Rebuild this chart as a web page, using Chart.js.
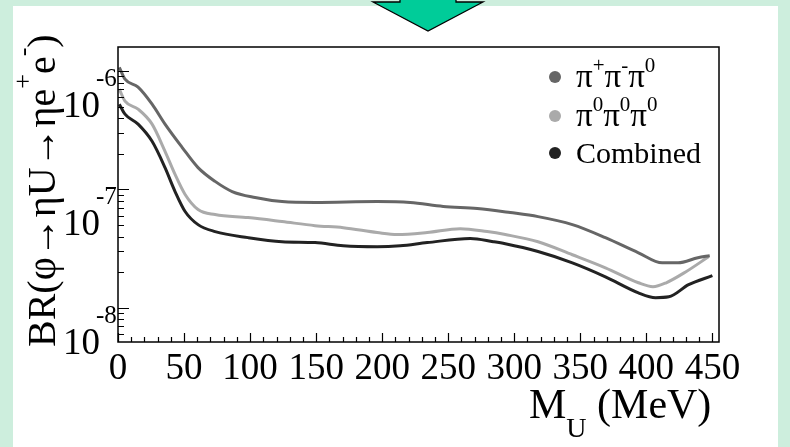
<!DOCTYPE html>
<html><head><meta charset="utf-8">
<script src="https://cdn.jsdelivr.net/npm/chart.js@4.4.0/dist/chart.umd.min.js"></script>
<style>html,body{margin:0;padding:0;background:#fff;}canvas{display:block;}</style>
</head><body>
<canvas id="c" width="790" height="447"></canvas>
<script>
// ---- data (M_U in MeV, BR upper limit) ----
const pipmX = [1,5.3,15.2,25.8,35.6,48.5,60.6,73.5,86.4,103.8,124.2,149.2,196.2,221.2,246.2,272,297,318,344,369,394,412,424,439,448];
const pipmY = [1.074e-6,8.55e-7,7.31e-7,5.25e-7,3.56e-7,2.27e-7,1.53e-7,1.17e-7,9.61e-8,8.55e-8,7.90e-8,7.76e-8,7.90e-8,7.76e-8,7.18e-8,6.90e-8,6.38e-8,5.90e-8,5.05e-8,3.92e-8,2.92e-8,2.40e-8,2.40e-8,2.65e-8,2.76e-8];

const pi0X = [1,5.3,15.2,25.8,35.6,43.2,50.8,60.6,73.5,98.5,124.2,149.2,170.5,196.2,211.4,234.1,259.1,279.5,293.2,318,344,369,394,405,415,430,447];
const pi0Y = [7.03e-7,5.57e-7,4.77e-7,3.56e-7,2.10e-7,1.34e-7,9.08e-8,6.78e-8,6.14e-8,5.79e-8,5.36e-8,4.95e-8,4.76e-8,4.33e-8,4.16e-8,4.33e-8,4.67e-8,4.41e-8,4.16e-8,3.62e-8,2.81e-8,2.18e-8,1.63e-8,1.51e-8,1.63e-8,2.02e-8,2.70e-8];

const combX = [1,5.3,15.2,25.8,35.6,43.2,50.8,60.6,73.5,98.5,124.2,149.2,170.5,196.2,213.6,234.1,266.7,284.1,293.2,318,344,369,394,407,417,432,450];
const combY = [5.25e-7,4.33e-7,3.56e-7,2.55e-7,1.53e-7,9.61e-8,6.52e-8,5.05e-8,4.41e-8,3.92e-8,3.62e-8,3.56e-8,3.35e-8,3.29e-8,3.35e-8,3.56e-8,3.85e-8,3.62e-8,3.48e-8,2.99e-8,2.40e-8,1.83e-8,1.34e-8,1.22e-8,1.24e-8,1.57e-8,1.87e-8];

const seriesLabels = [
  [['π',''],['+','sup'],['π',''],['-','sup'],['π',''],['0','sup']],
  [['π',''],['0','sup'],['π',''],['0','sup'],['π',''],['0','sup']],
  [['Combined','']]
];
const seriesColors = ['#666666', '#aaaaaa', '#222222'];
const xTickLabels = [0,50,100,150,200,250,300,350,400,450];
const yDecades = [-8,-7,-6];

const xMin = 0, xMax = 455;
const yMin = Math.pow(10,-8.288), yMax = Math.pow(10,-5.797);

function pts(xs, ys){ return xs.map((v,i)=>({x:v, y:ys[i]})); }

const SERIF = '"Liberation Serif","Times New Roman",serif';

function drawRich(ctx, parts, x, y, big, small, supDy, subDy){
  for (const [t,k] of parts){
    const sz = (k==='sup'||k==='sub')?small:big;
    ctx.font = sz+'px '+SERIF;
    const dy = k==='sup'?-supDy:(k==='sub'?subDy:0);
    ctx.fillText(t, x, y+dy);
    x += ctx.measureText(t).width;
  }
  return x;
}

const deco = {
  id:'deco',
  beforeDraw(chart){
    const ctx = chart.ctx;
    ctx.save();
    ctx.fillStyle = '#cdeedd';
    ctx.fillRect(0,0,790,447);
    ctx.fillStyle = '#ffffff';
    ctx.fillRect(13,6,765,441);
    // arrow head at top
    ctx.beginPath();
    ctx.moveTo(400,-5); ctx.lineTo(400,2); ctx.lineTo(373,2); ctx.lineTo(428,31);
    ctx.lineTo(483,2); ctx.lineTo(456,2); ctx.lineTo(456,-5); ctx.closePath();
    ctx.fillStyle = '#00cc99'; ctx.fill();
    ctx.strokeStyle = '#000'; ctx.lineWidth = 1.3; ctx.stroke();
    ctx.restore();
  },
  afterDraw(chart){
    const ctx = chart.ctx, a = chart.chartArea, xs = chart.scales.x, ys = chart.scales.y;
    ctx.save();
    ctx.strokeStyle = '#000';
    ctx.lineWidth = 1.5;
    ctx.strokeRect(a.left, a.top, a.right-a.left, a.bottom-a.top);
    ctx.lineWidth = 1.2;
    ctx.beginPath();
    for (let v=0; v<=450; v+=10){
      const px = Math.round(xs.getPixelForValue(v))+0.5;
      const len = (v%50===0)?9:5;
      ctx.moveTo(px, a.bottom); ctx.lineTo(px, a.bottom-len);
    }
    for (let d=-9; d<=-6; d++){
      for (let m=1; m<=9; m++){
        const val = m*Math.pow(10,d);
        if (val<yMin || val>yMax) continue;
        const py = Math.round(ys.getPixelForValue(val))+0.5;
        const len = (m===1)?11:6;
        ctx.moveTo(a.left, py); ctx.lineTo(a.left+len, py);
      }
    }
    ctx.stroke();

    ctx.fillStyle = '#000';
    // x tick labels
    ctx.font = '37px '+SERIF;
    ctx.textAlign = 'center'; ctx.textBaseline = 'alphabetic';
    for (const v of xTickLabels){
      ctx.fillText(String(v), xs.getPixelForValue(v), 379);
    }
    // y tick labels 10^d
    for (const d of yDecades){
      const py = ys.getPixelForValue(Math.pow(10,d));
      ctx.textAlign = 'right';
      ctx.font = '37px '+SERIF;
      ctx.fillText('10', 100, py+46);
      ctx.textAlign = 'left';
      ctx.font = '25px '+SERIF;
      ctx.fillText(String(d), 96, py+15);
    }
    ctx.textAlign = 'left';
    // x title
    drawRich(ctx, [['M',''],['U','sub'],[' (MeV)','']], 529, 418, 42, 28, 0, 19);
    // y title
    ctx.save();
    ctx.translate(55, 347);
    ctx.rotate(-Math.PI/2);
    drawRich(ctx, [['BR(φ→ηU→ηe',''],['+','sup'],['e',''],['-','sup'],[')','']], 0, 0, 40, 26, 24, 0);
    ctx.restore();
    // legend
    const lx = 555, ly = [77,116,153];
    for (let i=0;i<3;i++){
      ctx.fillStyle = seriesColors[i];
      ctx.beginPath(); ctx.arc(lx, ly[i], 6, 0, Math.PI*2); ctx.fill();
      ctx.fillStyle = '#000';
      drawRich(ctx, seriesLabels[i], 576, ly[i]+10, i<2?33:30, 21, 15, 0);
    }
    ctx.restore();
  }
};

const mk = (label, xsArr, ysArr, color) => ({
  label, data: pts(xsArr, ysArr), borderColor: color, backgroundColor: color,
  borderWidth: 3, pointRadius: 0, fill: false, tension: 0.4, cubicInterpolationMode: 'monotone'
});

new Chart(document.getElementById('c'), {
  type: 'line',
  data: { datasets: [
    mk('π+π-π0', pipmX, pipmY, seriesColors[0]),
    mk('π0π0π0', pi0X, pi0Y, seriesColors[1]),
    mk('Combined', combX, combY, seriesColors[2])
  ]},
  options: {
    responsive: false, animation: false, devicePixelRatio: 1,
    layout: { padding: { left: 118, top: 47, right: 71, bottom: 105 } },
    plugins: { legend: { display: false }, tooltip: { enabled: false } },
    scales: {
      x: { type: 'linear', min: xMin, max: xMax, display: false },
      y: { type: 'logarithmic', min: yMin, max: yMax, display: false }
    }
  },
  plugins: [deco]
});
</script>
</body></html>
